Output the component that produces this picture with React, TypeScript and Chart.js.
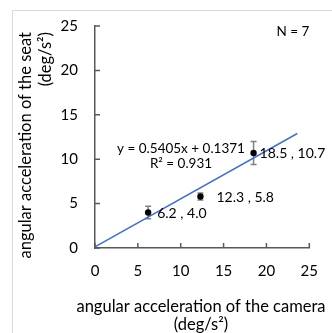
import React, { useEffect, useRef } from 'react';
import { Chart, registerables } from 'chart.js';

Chart.register(...registerables);

// ---- data ----
const cameraAccel = [6.2, 12.3, 18.5];
const seatAccel = [4.0, 5.8, 10.7];
const seatError = [0.7, 0.4, 1.3];
const pointLabels = ['6.2 , 4.0', '12.3 , 5.8', '18.5 , 10.7'];
const trendX = [0, 23.6];
const trendY = [0.137, 12.893];
const xTickValues = [0, 5, 10, 15, 20, 25];
const yTickValues = [0, 5, 10, 15, 20, 25];
const equationLines = ['y = 0.5405x + 0.1371', 'R² = 0.931'];
const sampleNote = 'N = 7';
const xTitleLines = ['angular acceleration of the camera', '(deg/s²)'];
const yTitleLines = ['angular acceleration of the seat', '(deg/s²)'];

// ---- style ----
const labelDx = [9, 16, 6];
const FONT = 'Lato, "Open Sans", sans-serif';
const TEXT = '#000000';
const AXIS = '#595959';

const decorPlugin = {
  id: 'decor',
  beforeDraw(chart: any) {
    const ctx = chart.ctx;
    ctx.save();
    ctx.strokeStyle = '#d9d9d9';
    ctx.lineWidth = 1;
    ctx.beginPath();
    ctx.moveTo(12.5, chart.height);
    ctx.lineTo(12.5, 10.5);
    ctx.lineTo(chart.width, 10.5);
    ctx.stroke();
    ctx.restore();
  },
  beforeDatasetsDraw(chart: any) {
    const ctx = chart.ctx;
    const xs = chart.scales.x;
    const ys = chart.scales.y;
    ctx.save();
    ctx.strokeStyle = '#808080';
    ctx.lineWidth = 1.5;
    cameraAccel.forEach((xv, i) => {
      const px = xs.getPixelForValue(xv);
      const top = ys.getPixelForValue(seatAccel[i] + seatError[i]);
      const bot = ys.getPixelForValue(seatAccel[i] - seatError[i]);
      ctx.beginPath();
      ctx.moveTo(px, top);
      ctx.lineTo(px, bot);
      ctx.moveTo(px - 3, top);
      ctx.lineTo(px + 3, top);
      ctx.moveTo(px - 3, bot);
      ctx.lineTo(px + 3, bot);
      ctx.stroke();
    });
    ctx.restore();
  },
  afterDraw(chart: any) {
    const ctx = chart.ctx;
    const ca = chart.chartArea;
    const xs = chart.scales.x;
    const ys = chart.scales.y;
    ctx.save();
    // inner tick marks
    ctx.strokeStyle = AXIS;
    ctx.lineWidth = 1.5;
    ctx.beginPath();
    xs.ticks.forEach((t: any) => {
      const px = xs.getPixelForValue(t.value);
      ctx.moveTo(px, ca.bottom);
      ctx.lineTo(px, ca.bottom - 5);
    });
    ys.ticks.forEach((t: any) => {
      const py = ys.getPixelForValue(t.value);
      ctx.moveTo(ca.left, py);
      ctx.lineTo(ca.left + 5, py);
    });
    ctx.stroke();

    ctx.fillStyle = TEXT;
    // data labels
    ctx.font = `14px ${FONT}`;
    ctx.textAlign = 'left';
    ctx.textBaseline = 'middle';
    cameraAccel.forEach((xv, i) => {
      const px = xs.getPixelForValue(xv);
      const py = ys.getPixelForValue(seatAccel[i]);
      ctx.fillText(pointLabels[i], px + labelDx[i], py + 1);
    });

    // equation
    ctx.font = `13.5px ${FONT}`;
    ctx.textAlign = 'center';
    ctx.textBaseline = 'alphabetic';
    equationLines.forEach((line, i) => {
      ctx.fillText(line, ca.left + 86, ca.top + 126.5 + i * 15.5);
    });

    // N note
    ctx.font = `13.5px ${FONT}`;
    ctx.textAlign = 'right';
    ctx.fillText(sampleNote, ca.right, ca.top + 9.5);

    // x title
    ctx.font = `16.5px ${FONT}`;
    ctx.textAlign = 'center';
    xTitleLines.forEach((line, i) => {
      ctx.fillText(line, ca.left + 106, ca.bottom + 63.5 + i * 18.5);
    });

    // y title
    ctx.save();
    ctx.translate(ca.left - 64, ca.top + 6);
    ctx.rotate(-Math.PI / 2);
    ctx.textAlign = 'right';
    yTitleLines.forEach((line, i) => {
      ctx.fillText(line, 0, i * 20);
    });
    ctx.restore();

    ctx.restore();
  },
};

export default function App() {
  const ref = useRef<HTMLCanvasElement | null>(null);

  useEffect(() => {
    if (!ref.current) return;
    const points = cameraAccel.map((x, i) => ({ x, y: seatAccel[i] }));
    const trend = trendX.map((x, i) => ({ x, y: trendY[i] }));
    const chart = new Chart(ref.current, {
      type: 'scatter',
      data: {
        datasets: [
          {
            data: points,
            backgroundColor: '#000000',
            borderColor: '#000000',
            borderWidth: 0,
            pointRadius: 3.2,
            showLine: false,
            order: 0,
          },
          {
            data: trend,
            borderColor: '#4472C4',
            backgroundColor: '#4472C4',
            borderWidth: 1.5,
            pointRadius: 0,
            showLine: true,
            order: 1,
          },
        ],
      },
      options: {
        animation: false,
        responsive: true,
        maintainAspectRatio: false,
        events: [],
        layout: { padding: { top: 22, right: 11, left: 0, bottom: 0 } },
        plugins: { legend: { display: false }, tooltip: { enabled: false } },
        scales: {
          x: {
            type: 'linear',
            min: 0,
            max: 25,
            afterBuildTicks: (s: any) => {
              s.ticks = xTickValues.map((v) => ({ value: v }));
            },
            afterFit: (s: any) => {
              s.height = 85;
            },
            grid: { display: true, drawOnChartArea: false, drawTicks: false },
            border: { display: true, color: AXIS, width: 1.5 },
            ticks: {
              padding: 14,
              color: TEXT,
              font: { family: FONT, size: 15 },
            },
          },
          y: {
            type: 'linear',
            min: 0,
            max: 25,
            afterBuildTicks: (s: any) => {
              s.ticks = yTickValues.map((v) => ({ value: v }));
            },
            afterFit: (s: any) => {
              s.width = 95;
            },
            grid: { display: true, drawOnChartArea: false, drawTicks: false },
            border: { display: true, color: AXIS, width: 1.5 },
            ticks: {
              padding: 17,
              color: TEXT,
              font: { family: FONT, size: 15 },
            },
          },
        },
      },
      plugins: [decorPlugin],
    });
    return () => chart.destroy();
  }, []);

  return (
    <div style={{ position: 'fixed', left: 0, top: 0, width: 332, height: 333, background: '#fff' }}>
      <canvas ref={ref} />
    </div>
  );
}
